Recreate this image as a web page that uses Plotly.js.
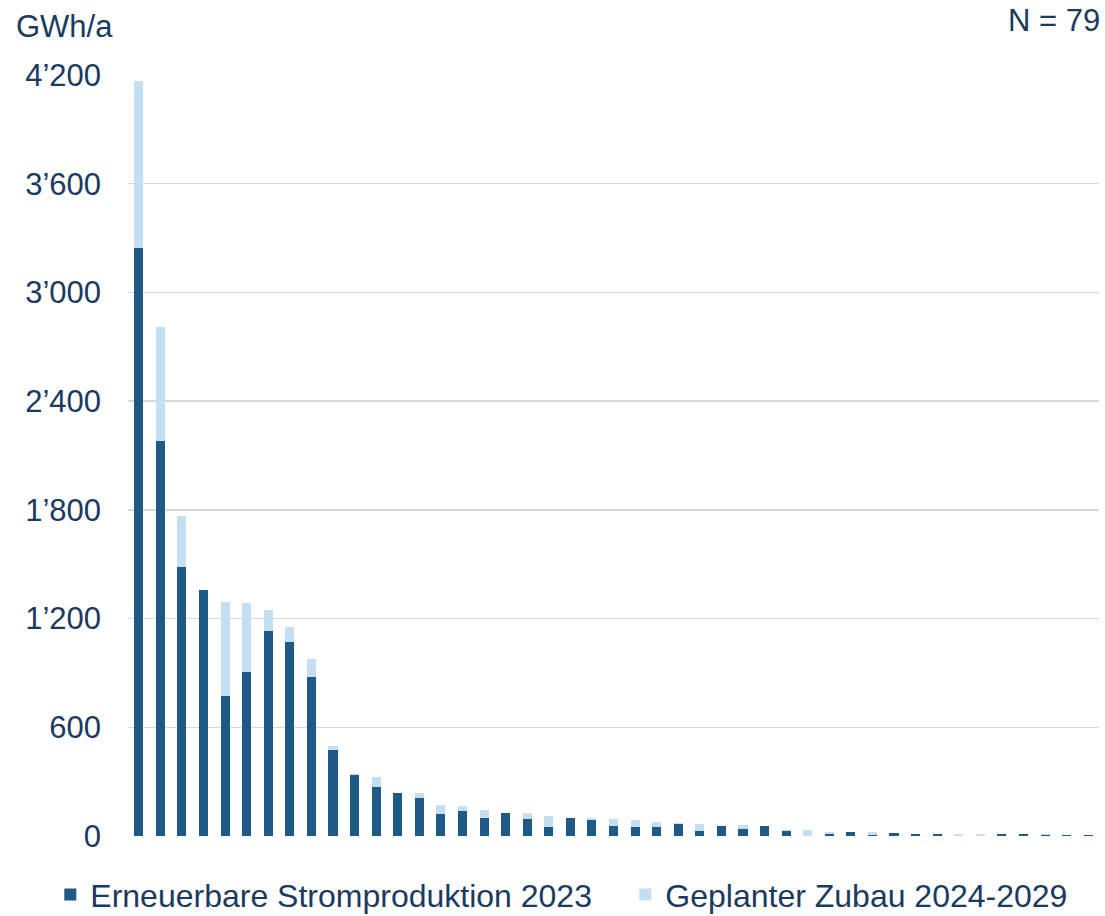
<!DOCTYPE html>
<html>
<head>
<meta charset="utf-8">
<script src="https://cdn.plot.ly/plotly-3.0.1.min.js"></script>
<style>html,body{margin:0;padding:0;background:#fff;}</style>
</head>
<body>
<div id="chart" style="width:1105px;height:916px;"></div>
<script>
// 45 bars, ranked by total
const categories = Array.from({length: 45}, (_, i) => String(i + 1));
const produktion2023 = [3243, 2181, 1485, 1355, 770, 904, 1130, 1068, 876, 477,
  339, 269, 237, 210, 122, 138, 99, 127, 94, 48,
  101, 87, 54, 48, 48, 68, 26, 54, 37, 55,
  30, 2, 13, 20, 4, 19, 13, 13, 2, 1,
  9, 9, 8, 6, 6];
const zubau2024_2029 = [924, 629, 280, 5, 520, 381, 116, 84, 101, 18,
  3, 55, 1, 26, 47, 26, 47, 2, 31, 61,
  1, 11, 42, 43, 28, 2, 39, 3, 22, 1,
  5, 29, 7, 0, 16, 0, 0, 0, 7, 8,
  0, 0, 1, 0, 0];
const seriesNames = ['Erneuerbare Stromproduktion 2023', 'Geplanter Zubau 2024-2029'];
const yTicks = [0, 600, 1200, 1800, 2400, 3000, 3600, 4200];

const textColor = '#1b3a5f';
const fontFam = '"Liberation Sans", Arial, sans-serif';

const traces = [
  {type: 'bar', x: categories, y: produktion2023, name: seriesNames[0],
   marker: {color: '#1f5a86'}, legendwidth: 530},
  {type: 'bar', x: categories, y: zubau2024_2029, name: seriesNames[1],
   marker: {color: '#c4def2'}}
];

const layout = {
  width: 1105, height: 916,
  barmode: 'stack', bargap: 0.58,
  separators: '.\u2019',
  margin: {l: 128, r: 6, t: 75, b: 80, pad: 0, autoexpand: false},
  paper_bgcolor: '#fff', plot_bgcolor: '#fff',
  font: {family: fontFam, size: 31, color: textColor},
  xaxis: {type: 'category', showticklabels: false, showgrid: false, zeroline: false,
          showline: false, ticks: '', fixedrange: true},
  yaxis: {range: [0, 4200], tickvals: yTicks, tickformat: ',d', showgrid: true,
          gridcolor: '#d9d9d9', gridwidth: 1.5, zeroline: false, showline: false, ticks: '',
          ticklabelstandoff: 26, tickfont: {size: 31, color: textColor}},
  showlegend: true,
  legend: {orientation: 'h', x: -0.08, xanchor: 'left', y: -0.077, yanchor: 'middle',
           font: {size: 32, color: textColor}, traceorder: 'normal', itemclick: false,
           bgcolor: 'rgba(0,0,0,0)'},
  annotations: [
    {text: 'GWh/a', xref: 'paper', yref: 'paper', x: -0.117, y: 1.064, xanchor: 'left',
     yanchor: 'middle', showarrow: false, font: {size: 31, color: textColor}},
    {text: 'N = 79', xref: 'paper', yref: 'paper', x: 1.003, y: 1.072, xanchor: 'right',
     yanchor: 'middle', showarrow: false, font: {size: 31, color: textColor}}
  ]
};

Plotly.newPlot('chart', traces, layout, {displayModeBar: false, staticPlot: true});
</script>
</body>
</html>
